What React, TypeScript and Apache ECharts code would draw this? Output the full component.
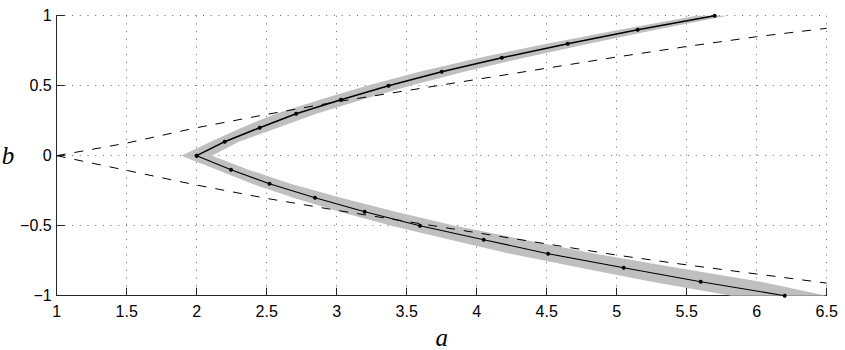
import React, { useEffect, useRef } from "react";
import * as echarts from "echarts";

// Upper branch (b >= 0) and lower branch (b <= 0): a value at each b
const UPPER_B = [0, 0.1, 0.2, 0.3, 0.4, 0.5, 0.6, 0.7, 0.8, 0.9, 1.0];
const UPPER_A = [2.0, 2.2, 2.45, 2.71, 3.03, 3.37, 3.75, 4.18, 4.65, 5.15, 5.7];
const LOWER_B = [0, -0.1, -0.2, -0.3, -0.4, -0.5, -0.6, -0.7, -0.8, -0.9, -1.0];
const LOWER_A = [2.0, 2.245, 2.52, 2.845, 3.2, 3.595, 4.05, 4.51, 5.05, 5.6, 6.2];

// Grey band edges (a values) at the same b levels
const UPPER_BAND_LEFT = [1.89, 2.1, 2.32, 2.565, 2.88, 3.215, 3.59, 4.02, 4.5, 5.02, 5.57];
const UPPER_BAND_RIGHT = [2.11, 2.3, 2.58, 2.855, 3.18, 3.525, 3.91, 4.34, 4.8, 5.28, 5.79];
const LOWER_BAND_LEFT = [1.89, 2.145, 2.395, 2.69, 3.02, 3.39, 3.81, 4.24, 4.74, 5.25, 5.82];
const LOWER_BAND_RIGHT = [2.11, 2.37, 2.67, 3.03, 3.42, 3.845, 4.34, 4.845, 5.43, 6.03, 6.5];

// Dashed boundary curves
const DASH_A = [1, 1.5, 2, 2.5, 3, 3.5, 4, 4.5, 5, 5.5, 6, 6.5];
const DASH_UPPER = [0, 0.09, 0.2, 0.295, 0.385, 0.465, 0.545, 0.625, 0.705, 0.78, 0.85, 0.91];
const DASH_LOWER = [0, -0.105, -0.21, -0.305, -0.39, -0.47, -0.55, -0.63, -0.71, -0.78, -0.845, -0.91];

// Tick labels
const X_TICKS = [1, 1.5, 2, 2.5, 3, 3.5, 4, 4.5, 5, 5.5, 6, 6.5];
const Y_TICKS = [-1, -0.5, 0, 0.5, 1];

const fmtTick = (v: number) => String(v).replace("-", "\u2212");

export default function App() {
  const ref = useRef<HTMLDivElement>(null);
  useEffect(() => {
    if (!ref.current) return;
    const chart = echarts.init(ref.current, undefined, { renderer: "svg" });
    const axisColor = "#262626";
    const gridLine = { show: true, lineStyle: { type: [1, 6.7], color: "#666", width: 1 } };
    const labelStyle = { color: "#000", fontSize: 16, fontFamily: "Liberation Sans, Arial, sans-serif" };
    const option: any = {
      animation: false,
      backgroundColor: "#fff",
      grid: { left: 56.7, right: 18.3, top: 15.7, bottom: 54.3, containLabel: false, outerBoundsMode: "none" },
      xAxis: {
        type: "value",
        min: X_TICKS[0],
        max: X_TICKS[X_TICKS.length - 1],
        interval: 0.5,
        name: "a",
        nameLocation: "middle",
        nameGap: 24,
        nameTextStyle: { fontFamily: "Liberation Serif, Times New Roman, serif", fontStyle: "italic", fontSize: 25, color: "#000" },
        axisLine: { show: true, onZero: false, lineStyle: { color: axisColor, width: 1 } },
        axisTick: { show: true, inside: true, length: 8, lineStyle: { color: axisColor } },
        axisLabel: { ...labelStyle, margin: 8, showMaxLabel: true, showMinLabel: true, formatter: (v: number) => fmtTick(X_TICKS.find((t) => Math.abs(t - v) < 1e-9) ?? v) },
        splitLine: gridLine,
      },
      yAxis: {
        type: "value",
        min: Y_TICKS[0],
        max: Y_TICKS[Y_TICKS.length - 1],
        interval: 0.5,
        name: "b",
        nameLocation: "middle",
        nameRotate: 0,
        nameGap: 40,
        nameTextStyle: { fontFamily: "Liberation Serif, Times New Roman, serif", fontStyle: "italic", fontSize: 25, color: "#000", padding: [0, 0, 20, 0] },
        axisLine: { show: true, onZero: false, lineStyle: { color: axisColor, width: 1 } },
        axisTick: { show: true, inside: true, length: 8, lineStyle: { color: axisColor } },
        axisLabel: { ...labelStyle, margin: 5, formatter: (v: number) => fmtTick(Y_TICKS.find((t) => Math.abs(t - v) < 1e-9) ?? v) },
        splitLine: gridLine,
      },
      series: [
        {
          type: "custom",
          coordinateSystem: "cartesian2d",
          silent: true,
          z: 1,
          data: [[UPPER_A[0], UPPER_B[0]]],
          encode: { x: 0, y: 1 },
          renderItem: (_params: any, api: any) => {
            const pts: number[][] = [];
            for (let i = UPPER_B.length - 1; i >= 0; i--) pts.push(api.coord([UPPER_BAND_LEFT[i], UPPER_B[i]]));
            for (let i = 1; i < LOWER_B.length; i++) pts.push(api.coord([LOWER_BAND_LEFT[i], LOWER_B[i]]));
            for (let i = LOWER_B.length - 1; i >= 0; i--) pts.push(api.coord([LOWER_BAND_RIGHT[i], LOWER_B[i]]));
            for (let i = 1; i < UPPER_B.length; i++) pts.push(api.coord([UPPER_BAND_RIGHT[i], UPPER_B[i]]));
            return { type: "polygon", shape: { points: pts }, style: { fill: "#bfbfbf", stroke: "none" } };
          },
        },
        {
          type: "line",
          z: 2,
          symbol: "none",
          data: DASH_A.map((a, i) => [a, DASH_UPPER[i]]),
          lineStyle: { color: "#000", width: 1, type: [9, 9] },
        },
        {
          type: "line",
          z: 2,
          symbol: "none",
          data: DASH_A.map((a, i) => [a, DASH_LOWER[i]]),
          lineStyle: { color: "#000", width: 1, type: [9, 9] },
        },
        {
          type: "line",
          z: 3,
          symbol: "circle",
          symbolSize: 4,
          data: UPPER_A.map((a, i) => [a, UPPER_B[i]]),
          itemStyle: { color: "#000" },
          lineStyle: { color: "#000", width: 1.5 },
        },
        {
          type: "line",
          z: 3,
          symbol: "circle",
          symbolSize: 4,
          data: LOWER_A.map((a, i) => [a, LOWER_B[i]]),
          itemStyle: { color: "#000" },
          lineStyle: { color: "#000", width: 1.1 },
        },
      ],
    };
    chart.setOption(option);
    return () => chart.dispose();
  }, []);
  return <div ref={ref} style={{ width: 845, height: 350, position: "absolute", left: 0, top: 0 }} />;
}
